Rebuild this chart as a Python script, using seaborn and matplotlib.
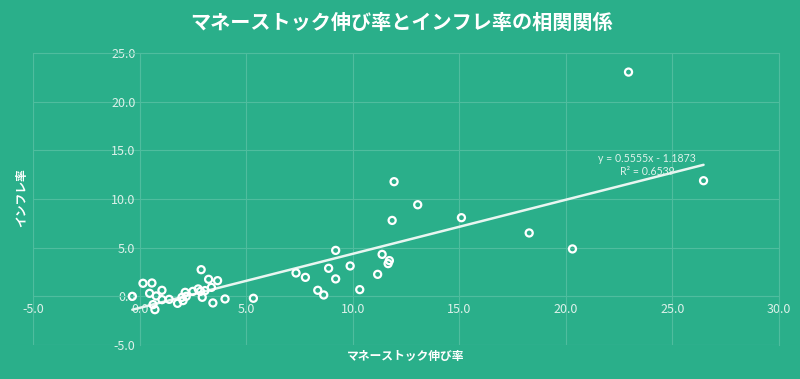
import matplotlib
matplotlib.use("Agg")
import matplotlib.pyplot as plt
import seaborn as sns
import numpy as np
import pandas as pd

# ---- data ----
money_growth = [-0.34, 0.16, 0.58, 0.47, 0.78, 1.05, 0.63, 0.72, 1.05, 1.39,
                1.78, 1.99, 2.04, 2.14, 2.19, 2.50, 2.75, 2.89, 2.86, 2.94,
                3.07, 3.24, 3.37, 3.44, 3.66, 4.01, 5.34,
                9.20, 11.38, 11.72, 11.66, 11.17, 9.88, 8.87, 9.20, 7.34, 7.78,
                8.36, 8.64, 10.33,
                11.94, 13.05, 11.85, 15.10, 18.28,
                22.94, 26.46, 20.31]
inflation = [0.00, 1.34, 1.37, 0.31, 0.04, 0.62, -0.85, -1.37, -0.34, -0.31,
             -0.72, -0.10, -0.44, 0.41, 0.00, 0.51, 0.76, 2.74, 0.51, -0.10,
             0.59, 1.75, 0.92, -0.68, 1.61, -0.27, -0.20,
             4.72, 4.31, 3.67, 3.36, 2.26, 3.12, 2.88, 1.79, 2.40, 1.95,
             0.62, 0.14, 0.69,
             11.78, 9.41, 7.80, 8.08, 6.51,
             23.04, 11.88, 4.87]
trend_slope = 0.5555
trend_intercept = -1.1873
trend_label = "y = 0.5555x - 1.1873\nR² = 0.6539"

x_ticks = [-5, 0, 5, 10, 15, 20, 25, 30]
y_ticks = [-5, 0, 5, 10, 15, 20, 25]

title = "マネーストック伸び率とインフレ率の相関関係"
x_label = "マネーストック伸び率"
y_label = "インフレ率"

# ---- style ----
BG = "#2AAF8A"
GRID = "#4FBD9E"
TXT = "#DDF1EA"
LATIN = ["Lato", "DejaVu Sans"]
sns.set_theme(style="white")
plt.rcParams["font.family"] = ["Noto Sans CJK JP", "DejaVu Sans"]

df = pd.DataFrame({"money": money_growth, "infl": inflation})

fig = plt.figure(figsize=(8, 3.79), dpi=100, facecolor=BG)
ax = fig.add_axes([33 / 800, 34 / 379, 746 / 800, 292 / 379])
ax.set_facecolor(BG)

sns.scatterplot(data=df, x="money", y="infl", ax=ax, marker="o", s=26,
                facecolor="none", edgecolor="white", linewidth=1.6, zorder=4)

xs = np.array([min(money_growth), max(money_growth)])
ax.plot(xs, trend_slope * xs + trend_intercept, color="#E8F6F1", lw=1.8, zorder=3)

ax.text(23.8, 13.5, trend_label, ha="center", va="center", fontsize=7.6,
        color=TXT, linespacing=1.3, zorder=5, family=LATIN)

ax.set_xlim(-5, 30)
ax.set_ylim(-5, 25)
ax.set_xticks(x_ticks)
ax.set_yticks(y_ticks)
ax.set_xticklabels([f"{v:.1f}" for v in x_ticks], family=LATIN)
ax.set_yticklabels([f"{v:.1f}" for v in y_ticks], family=LATIN)
ax.grid(True, color=GRID, lw=0.8, zorder=0)
ax.set_axisbelow(True)

for side in ["left", "bottom"]:
    ax.spines[side].set_position(("data", 0))
    ax.spines[side].set_color(GRID)
    ax.spines[side].set_linewidth(0.8)
for side in ["top", "right"]:
    ax.spines[side].set_color(GRID)
    ax.spines[side].set_linewidth(0.8)
ax.axvline(-5, color=GRID, lw=0.8, zorder=0)
ax.axhline(-5, color=GRID, lw=0.8, zorder=0)

ax.tick_params(axis="both", length=0, labelsize=9, labelcolor=TXT)
ax.tick_params(axis="x", pad=5)
ax.tick_params(axis="y", pad=3)
ax.set_xlabel("")
ax.set_ylabel("")

fig.text(401 / 800, 1 - 22 / 379, title, ha="center", va="center",
         fontsize=14.5, fontweight="bold", color="white")
fig.text(406 / 800, 1 - 356 / 379, x_label, ha="center", va="center",
         fontsize=8.5, fontweight="bold", color="white")
fig.text(22 / 800, 1 - 198 / 379, y_label, ha="center", va="center",
         rotation=90, fontsize=8.5, fontweight="bold", color="white")

fig.savefig("out.png", dpi=100, facecolor=BG)
